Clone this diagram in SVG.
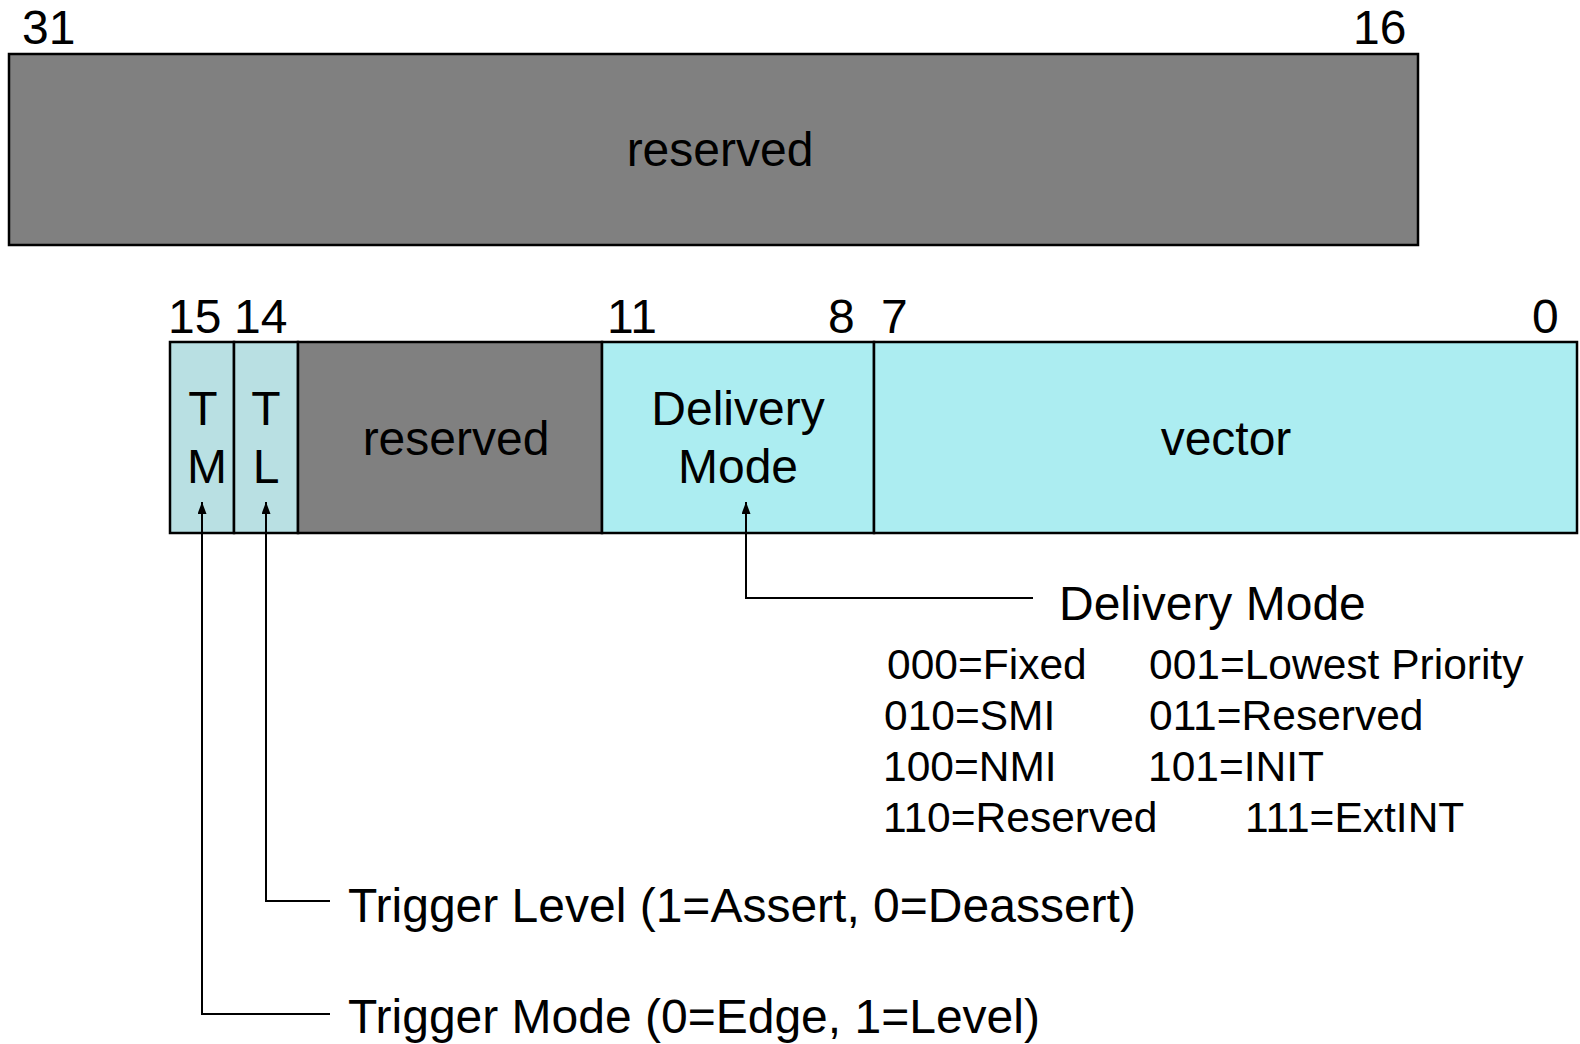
<svg xmlns="http://www.w3.org/2000/svg" width="1580" height="1044" viewBox="0 0 1580 1044">
  <style>
    text { font-family: "Liberation Sans", Arial, sans-serif; fill: #000; }
    .big { font-size: 48px; }
    .code { font-size: 42.5px; }
    .mid { text-anchor: middle; }
    .cell { stroke: #000; stroke-width: 2.5; }
    .gray { fill: #808080; }
    .cyan { fill: #ACEDF1; }
    .teal { fill: #B9E0E3; }
    .conn { fill: none; stroke: #000; stroke-width: 2; }
  </style>
  <defs>
    <marker id="arrow" viewBox="0 0 12 9" refX="12" refY="4.5" markerWidth="12" markerHeight="9" markerUnits="userSpaceOnUse" orient="auto">
      <path d="M0,0 L12,4.5 L0,9 z" fill="#000"/>
    </marker>
  </defs>

  <rect width="1580" height="1044" fill="#fff"/>

  <!-- upper half: bits 31..16 -->
  <g id="bit-labels-high">
    <text class="big" x="22" y="44">31</text>
    <text class="big" x="1353" y="44">16</text>
  </g>
  <g id="reserved-high">
    <rect class="cell gray" x="9" y="54" width="1409" height="191"/>
    <text class="big mid" x="720" y="166">reserved</text>
  </g>

  <!-- lower half: bits 15..0 -->
  <g id="bit-labels-low">
    <text class="big" x="168" y="333">15</text>
    <text class="big" x="234" y="333">14</text>
    <text class="big" x="607" y="333">11</text>
    <text class="big" x="828" y="333">8</text>
    <text class="big" x="881" y="333">7</text>
    <text class="big" x="1532" y="333">0</text>
  </g>
  <g id="tm">
    <rect class="cell teal" x="170" y="342" width="64" height="191"/>
    <text class="big mid" x="203" y="425">T</text>
    <text class="big mid" x="207" y="483">M</text>
  </g>
  <g id="tl">
    <rect class="cell teal" x="234" y="342" width="64" height="191"/>
    <text class="big mid" x="266" y="425">T</text>
    <text class="big mid" x="266" y="483">L</text>
  </g>
  <g id="reserved-low">
    <rect class="cell gray" x="298" y="342" width="304" height="191"/>
    <text class="big mid" x="456" y="455">reserved</text>
  </g>
  <g id="delivery-mode">
    <rect class="cell cyan" x="602" y="342" width="272" height="191"/>
    <text class="big mid" x="738" y="425">Delivery</text>
    <text class="big mid" x="738" y="483">Mode</text>
  </g>
  <g id="vector">
    <rect class="cell cyan" x="874" y="342" width="703" height="191"/>
    <text class="big mid" x="1226" y="455">vector</text>
  </g>

  <!-- leader lines from the legends up to their fields -->
  <g id="connectors">
    <path class="conn" d="M1033,598 H746 V502" marker-end="url(#arrow)"/>
    <path class="conn" d="M330,901 H266 V502" marker-end="url(#arrow)"/>
    <path class="conn" d="M330,1014 H202 V502" marker-end="url(#arrow)"/>
  </g>

  <!-- legends -->
  <g id="delivery-mode-legend">
    <text class="big" x="1059" y="620">Delivery Mode</text>
    <text class="code" x="887" y="679">000=Fixed</text>
    <text class="code" x="1149" y="679">001=Lowest Priority</text>
    <text class="code" x="884" y="730">010=SMI</text>
    <text class="code" x="1149" y="730">011=Reserved</text>
    <text class="code" x="883" y="781">100=NMI</text>
    <text class="code" x="1148" y="781">101=INIT</text>
    <text class="code" x="883" y="832">110=Reserved</text>
    <text class="code" x="1245" y="832">111=ExtINT</text>
  </g>
  <g id="trigger-level-legend">
    <text class="big" x="348" y="922">Trigger Level (1=Assert, 0=Deassert)</text>
  </g>
  <g id="trigger-mode-legend">
    <text class="big" x="348" y="1033">Trigger Mode (0=Edge, 1=Level)</text>
  </g>
</svg>
